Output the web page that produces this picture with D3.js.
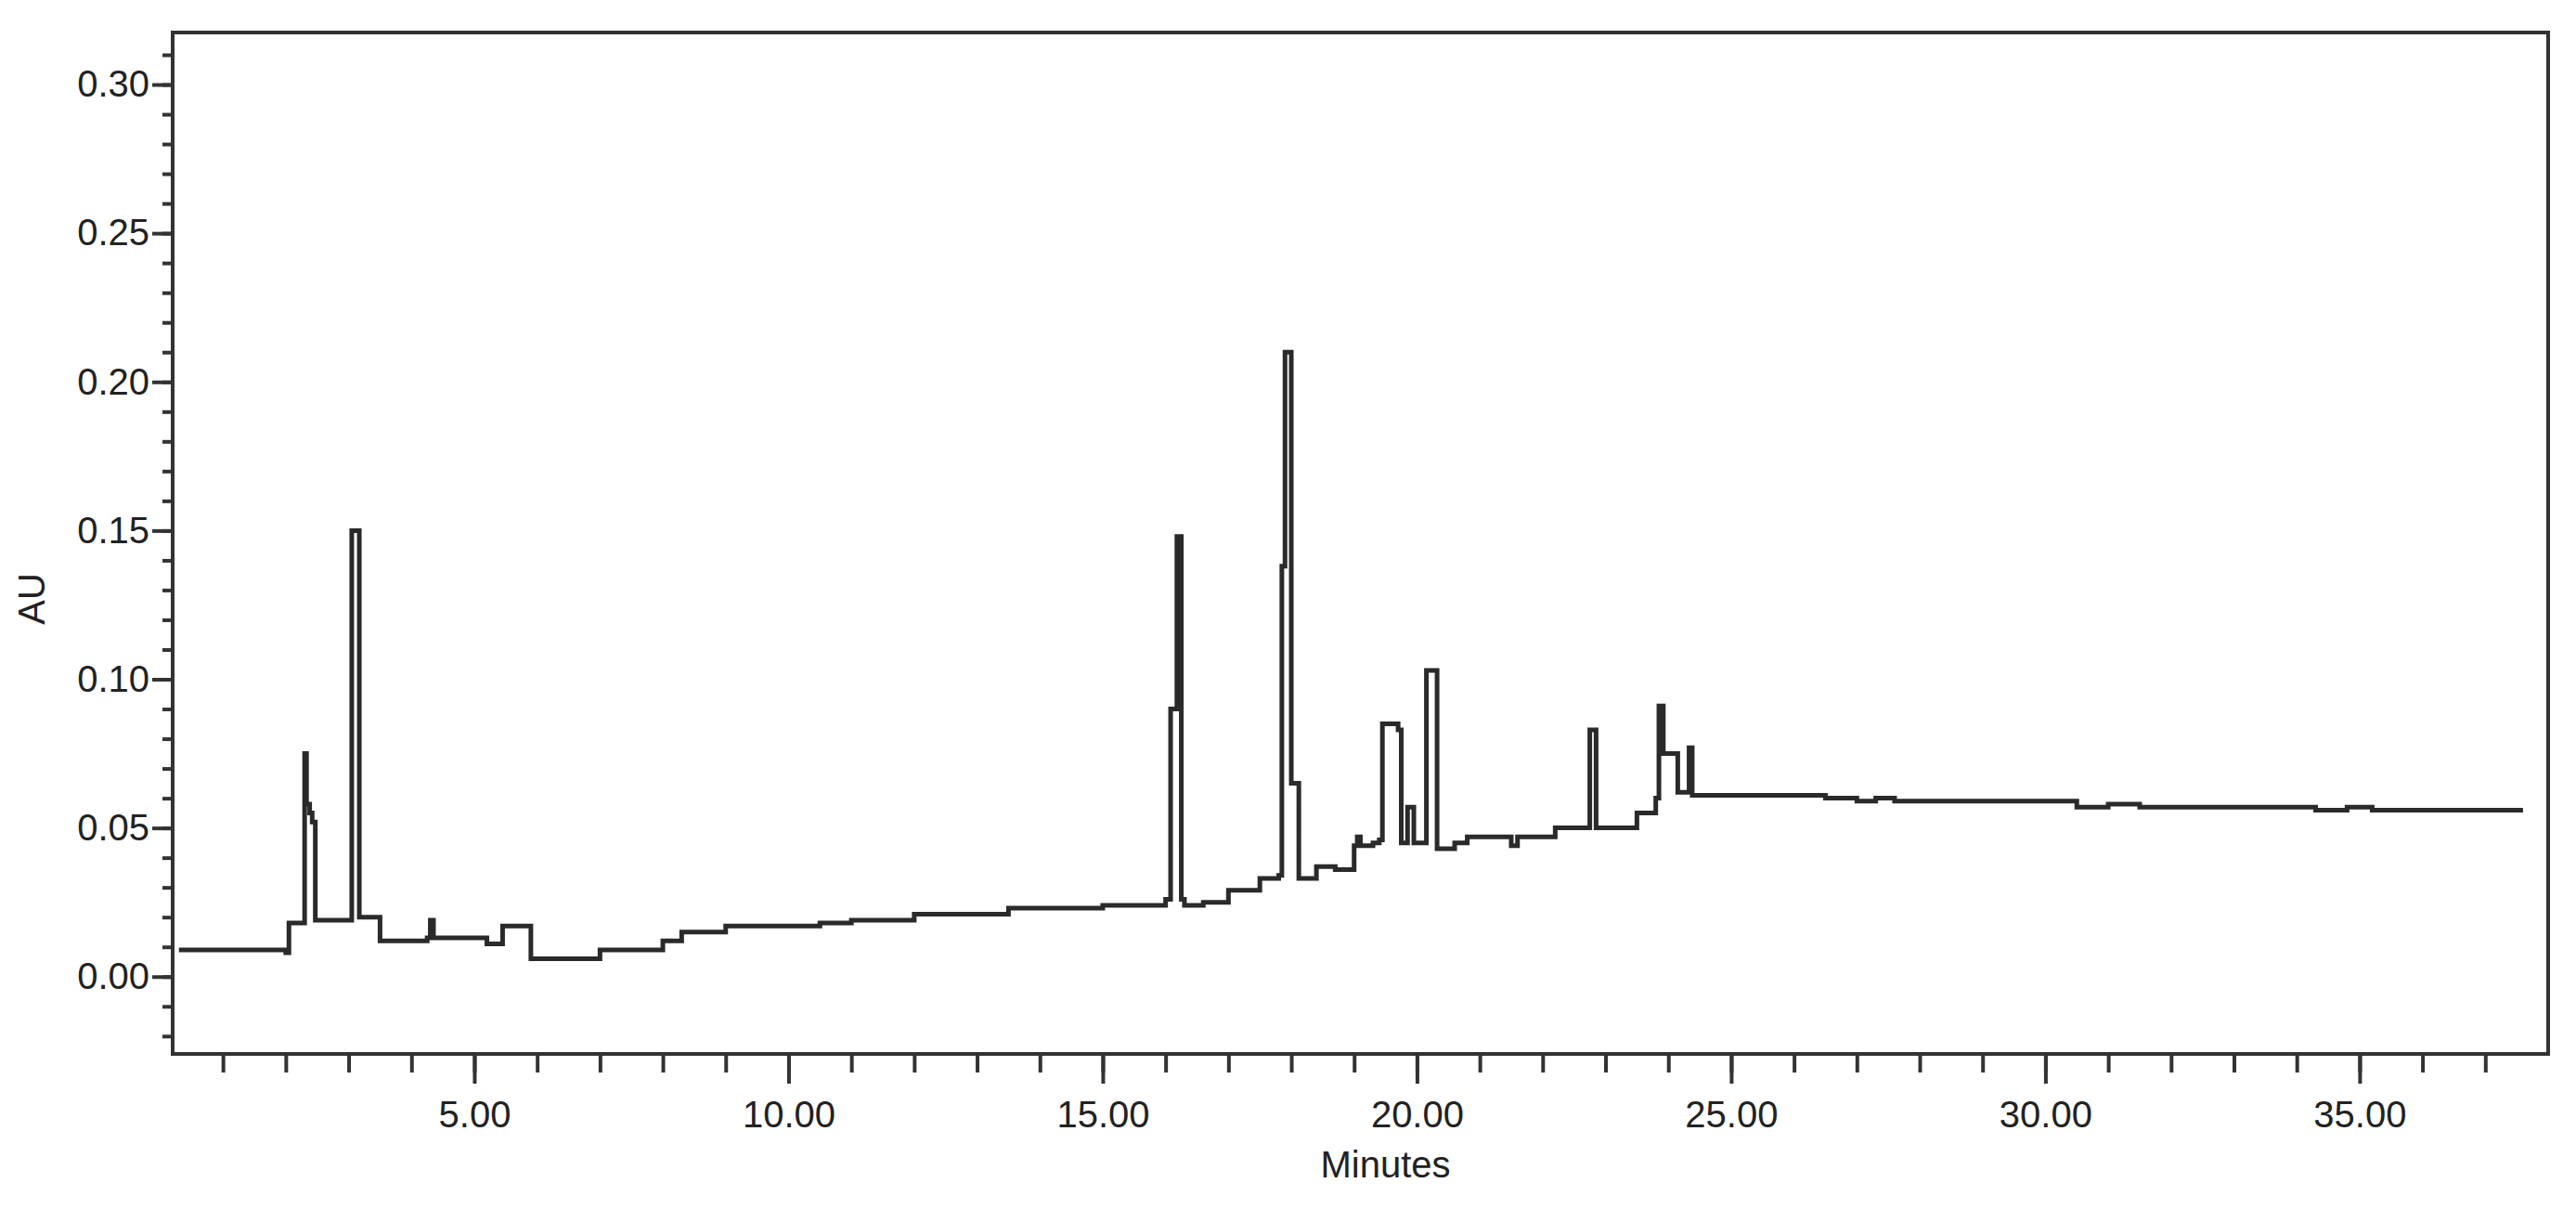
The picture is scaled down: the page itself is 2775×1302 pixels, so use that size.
<!DOCTYPE html>
<head>
	<script src="https://d3js.org/d3.v7.min.js"></script>
	<style>
		body { margin: 0; background: #fff; }
		text { font-family: "Liberation Sans Narrow", "Liberation Sans", Arial, sans-serif; fill: #222; }
	</style>
</head>
<body>
	<script type="text/javascript">

		var w = 2775;
		var h = 1302;
		var padL = 186, padR = 2745, padT = 35, padB = 1135;

		// retention time (minutes) and absorbance (AU)
		var minutes = [0.3, 2.0, 2.05, 2.25, 2.3, 2.33, 2.38, 2.42, 2.47, 2.5, 3.0, 3.05, 3.12, 3.17, 3.25, 3.5, 4.0, 4.25, 4.3, 4.35,
			5.0, 5.2, 5.45, 5.8, 5.9, 7.0, 8.0, 8.3, 9.0, 10.5, 11.0, 12.0, 13.5, 15.0, 16.0, 16.08, 16.12, 16.18, 16.25,
			16.3, 16.6, 17.0, 17.5, 17.8, 17.85, 17.9, 17.95, 18.0, 18.05, 18.12, 18.4, 18.7, 19.0, 19.05, 19.1, 19.3, 19.4,
			19.45, 19.6, 19.7, 19.75, 19.85, 19.95, 20.05, 20.15, 20.25, 20.32, 20.6, 20.8, 21.3, 21.5, 21.6, 22.2, 22.7,
			22.75, 22.8, 22.85, 22.9, 23.3, 23.5, 23.8, 23.85, 23.92, 24.0, 24.15, 24.25, 24.33, 24.38, 24.45, 25.0, 26.5,
			27.0, 27.3, 27.6, 30.0, 30.5, 31.0, 31.5, 34.0, 34.3, 34.8, 35.2, 37.6];
		var absorb = [0.009, 0.008, 0.018, 0.018, 0.075, 0.058, 0.055, 0.052, 0.019, 0.019, 0.019, 0.15, 0.15, 0.02, 0.02, 0.012, 0.012, 0.013, 0.019, 0.013,
			0.013, 0.011, 0.017, 0.017, 0.006, 0.009, 0.012, 0.015, 0.017, 0.018, 0.019, 0.021, 0.023, 0.024, 0.026, 0.09, 0.09, 0.148, 0.026,
			0.024, 0.025, 0.029, 0.033, 0.034, 0.138, 0.21, 0.21, 0.065, 0.065, 0.033, 0.037, 0.036, 0.044, 0.047, 0.044, 0.045, 0.046,
			0.085, 0.085, 0.083, 0.045, 0.057, 0.045, 0.045, 0.103, 0.103, 0.043, 0.045, 0.047, 0.047, 0.044, 0.047, 0.050, 0.050,
			0.083, 0.083, 0.050, 0.050, 0.050, 0.055, 0.060, 0.091, 0.075, 0.075, 0.062, 0.062, 0.077, 0.061, 0.061, 0.061, 0.060,
			0.059, 0.060, 0.059, 0.059, 0.057, 0.058, 0.057, 0.057, 0.056, 0.057, 0.056, 0.056];

		var yTicks = [0.00, 0.05, 0.10, 0.15, 0.20, 0.25, 0.30];
		var xTicks = [5, 10, 15, 20, 25, 30, 35];

		var svg = d3.select('body')
				.append("svg")
				.attr("width", w)
				.attr("height", h);

		var xScale = d3.scaleLinear().domain([0.2, 38.0]).range([padL, padR]);
		var yScale = d3.scaleLinear().domain([-0.026, 0.3175]).range([padB, padT]);

		// frame
		svg.append("rect")
			.attr("x", padL).attr("y", padT)
			.attr("width", padR - padL).attr("height", padB - padT)
			.attr("fill", "none").attr("stroke", "#333").attr("stroke-width", 4);

		// x axis: minor every minute, labelled every 5
		var xAxis = svg.append("g").attr("transform", "translate(0," + padB + ")");
		xAxis.call(d3.axisBottom(xScale).tickValues(d3.range(1, 38)).tickSize(20).tickFormat(""));
		xAxis.append("g").call(d3.axisBottom(xScale).tickValues(xTicks).tickSize(32).tickFormat(d3.format(".2f")));
		xAxis.selectAll(".domain").remove();
		xAxis.selectAll("line").attr("stroke", "#333").attr("stroke-width", 4);
		xAxis.selectAll("text").style("font-size", "40px").attr("dy", "1.1em").attr("fill", "#222");

		// y axis: minor every 0.01
		var yAxis = svg.append("g").attr("transform", "translate(" + padL + ",0)");
		yAxis.call(d3.axisLeft(yScale).tickValues(d3.range(-0.02, 0.315, 0.01)).tickSize(11).tickFormat(""));
		yAxis.append("g").call(d3.axisLeft(yScale).tickValues(yTicks).tickSize(22).tickFormat(d3.format(".2f")));
		yAxis.selectAll(".domain").remove();
		yAxis.selectAll("line").attr("stroke", "#333").attr("stroke-width", 4);
		yAxis.selectAll("text").style("font-size", "40px").attr("fill", "#222");

		svg.append("text")
			.attr("transform", "translate(48," + ((padT + padB) / 2 + 60) + ") rotate(-90)")
			.attr("text-anchor", "middle")
			.style("font-size", "40px")
			.text("AU");

		svg.append("text")
			.attr("x", xScale(19.5)).attr("y", 1268)
			.attr("text-anchor", "middle")
			.style("font-size", "40px")
			.text("Minutes");

		var pts = minutes.map(function(d, i){ return [d, absorb[i]]; });

		var line = d3.line()
			.x(function(d){ return xScale(d[0]); })
			.y(function(d){ return yScale(d[1]); })
			.curve(d3.curveStepAfter);

		svg.append("path")
			.datum(pts)
			.attr("d", line)
			.attr("fill", "none")
			.attr("stroke", "#2a2a2a")
			.attr("stroke-width", 5);

	</script>
</body>
